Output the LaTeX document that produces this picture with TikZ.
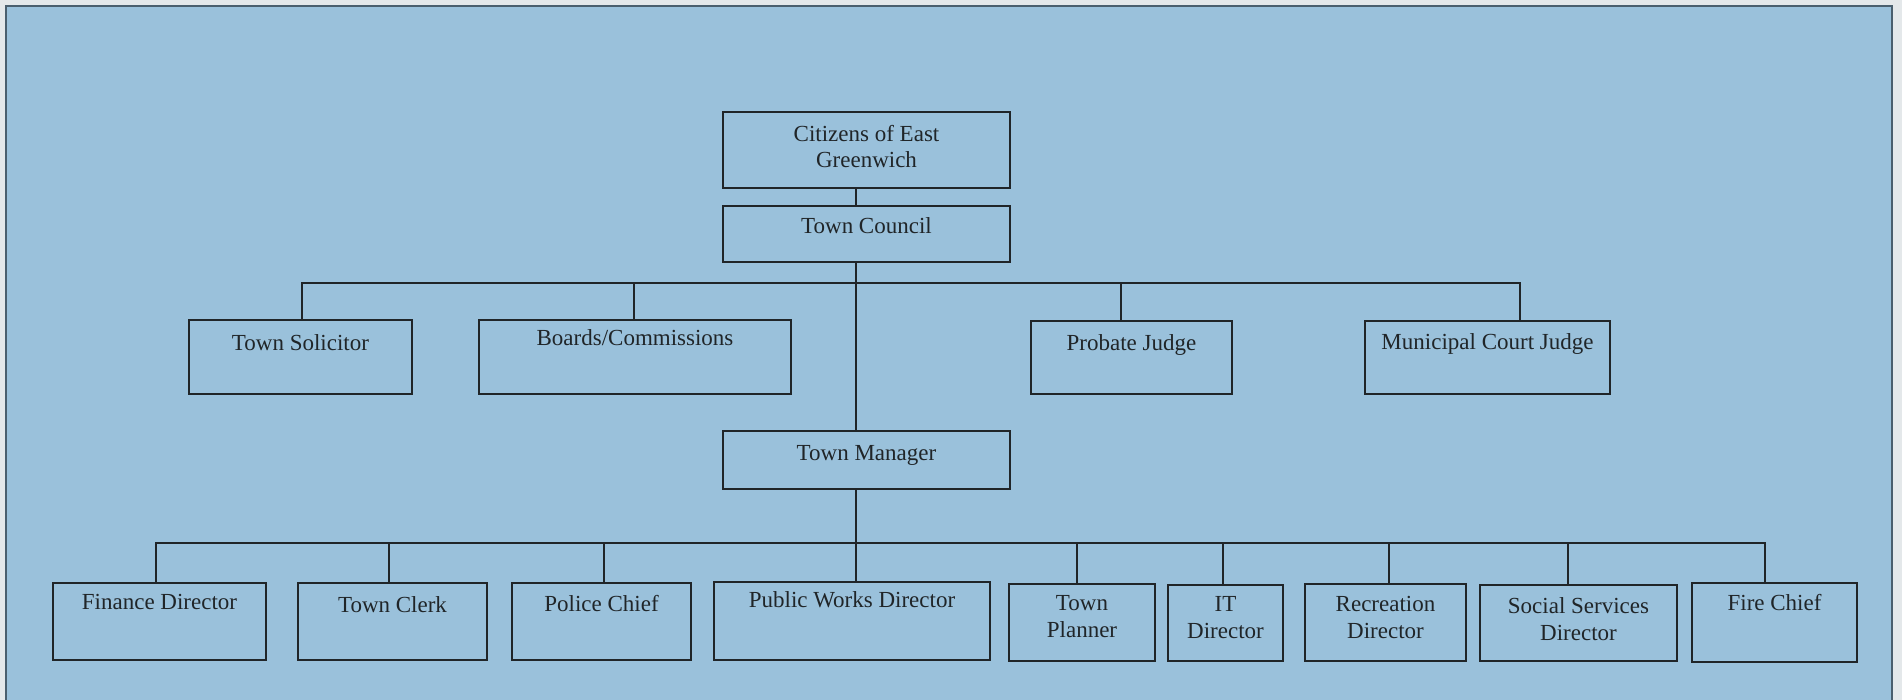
\documentclass[tikz,border=0pt]{standalone}
\usepackage{fontspec}
\setmainfont{Liberation Serif}
\usetikzlibrary{calc}
\definecolor{bgblue}{HTML}{9AC1DB}
\definecolor{framecol}{HTML}{4A5F6E}
\definecolor{inkcol}{HTML}{202528}
\definecolor{outcol}{HTML}{E4E8EA}
\newcommand{\obox}[5]{\node[obox, minimum width={(#4-#2)*1pt}, minimum height={(#5-#3)*1pt}] (#1) at ({(#2+#4)/2},{(#3+#5)/2}) {};}
\tikzset{
  obox/.style={draw=inkcol, line width=2.6pt, inner sep=0pt, outer sep=0pt, rectangle},
  lbl/.style={anchor=base, inner sep=0pt, text=inkcol, align=center, font=\fontsize{23}{26.5}\selectfont},
  conn/.style={draw=inkcol, line width=2.2pt},
}
\begin{document}
\begin{tikzpicture}[x=1pt,y=-1pt]
\useasboundingbox (0,0) rectangle (1902,700);
\fill[outcol] (0,0) rectangle (1902,700);
\fill[bgblue] (6,6) rectangle (1892,700);
\draw[framecol, line width=2.6pt] (6,700) -- (6,6) -- (1892,6) -- (1892,700);

% boxes
\obox{cit}{723}{112}{1010}{188}
\obox{tc}{723}{206}{1010}{262}
\obox{sol}{189}{320}{412}{394}
\obox{brd}{479}{320}{791}{394}
\obox{pro}{1031}{321}{1232}{394}
\obox{mun}{1365}{321}{1610}{394}
\obox{tm}{723}{431}{1010}{489}
\obox{fin}{53}{583}{266}{660}
\obox{clk}{298}{583}{487}{660}
\obox{pol}{512}{583}{691}{660}
\obox{pw}{714}{582}{990}{660}
\obox{tp}{1009}{584}{1155}{661}
\obox{it}{1168}{585}{1283}{661}
\obox{rec}{1305}{584}{1466}{661}
\obox{soc}{1480}{585}{1677}{661}
\obox{fire}{1692}{583}{1857}{662}

% labels (multi-line labels are anchored at the baseline of their last line)
\node[lbl] (citT) at (866.5,168) {Citizens of East\\Greenwich};
\node[lbl] (tcT) at (866.5,234) {Town Council};
\node[lbl] (solT) at (300.5,350) {Town Solicitor};
\node[lbl] (brdT) at (635,345) {Boards/Commissions};
\node[lbl] (proT) at (1131.5,350) {Probate Judge};
\node[lbl] (munT) at (1487.5,349) {Municipal Court Judge};
\node[lbl] (tmT) at (866.5,460) {Town Manager};
\node[lbl] (finT) at (159.5,609) {Finance Director};
\node[lbl] (clkT) at (392.5,612) {Town Clerk};
\node[lbl] (polT) at (601.5,611) {Police Chief};
\node[lbl] (pwT) at (852,607) {Public Works Director};
\node[lbl] (tpT) at (1082,637) {Town\\Planner};
\node[lbl] (itT) at (1225.5,638) {IT\\Director};
\node[lbl] (recT) at (1385.5,638) {Recreation\\Director};
\node[lbl] (socT) at (1578.5,640) {Social Services\\Director};
\node[lbl] (fireT) at (1774.5,610) {Fire Chief};

% connector coordinates
\coordinate (spA) at (856,283);
\coordinate (spB) at (856,543);
\coordinate (a1) at (302,283);
\coordinate (a2) at (634,283);
\coordinate (a3) at (1121,283);
\coordinate (a4) at (1520,283);
\coordinate (b1) at (156,543);
\coordinate (b2) at (389,543);
\coordinate (b3) at (604,543);
\coordinate (b5) at (1077,543);
\coordinate (b6) at (1223,543);
\coordinate (b7) at (1389,543);
\coordinate (b8) at (1568,543);
\coordinate (b9) at (1765,543);

% spine
\draw[conn] (cit.south -| spA) -- (tc.north -| spA);
\draw[conn] (tc.south -| spA) -- (tm.north -| spA);
\draw[conn] (tm.south -| spB) -- (pw.north -| spB);

% upper bar
\draw[conn] (sol.north -| a1) -- (a1) -- (a4) -- (mun.north -| a4);
\draw[conn] (a2) -- (brd.north -| a2);
\draw[conn] (a3) -- (pro.north -| a3);

% lower bar
\draw[conn] (fin.north -| b1) -- (b1) -- (b9) -- (fire.north -| b9);
\draw[conn] (b2) -- (clk.north -| b2);
\draw[conn] (b3) -- (pol.north -| b3);
\draw[conn] (b5) -- (tp.north -| b5);
\draw[conn] (b6) -- (it.north -| b6);
\draw[conn] (b7) -- (rec.north -| b7);
\draw[conn] (b8) -- (soc.north -| b8);
\end{tikzpicture}
\end{document}
